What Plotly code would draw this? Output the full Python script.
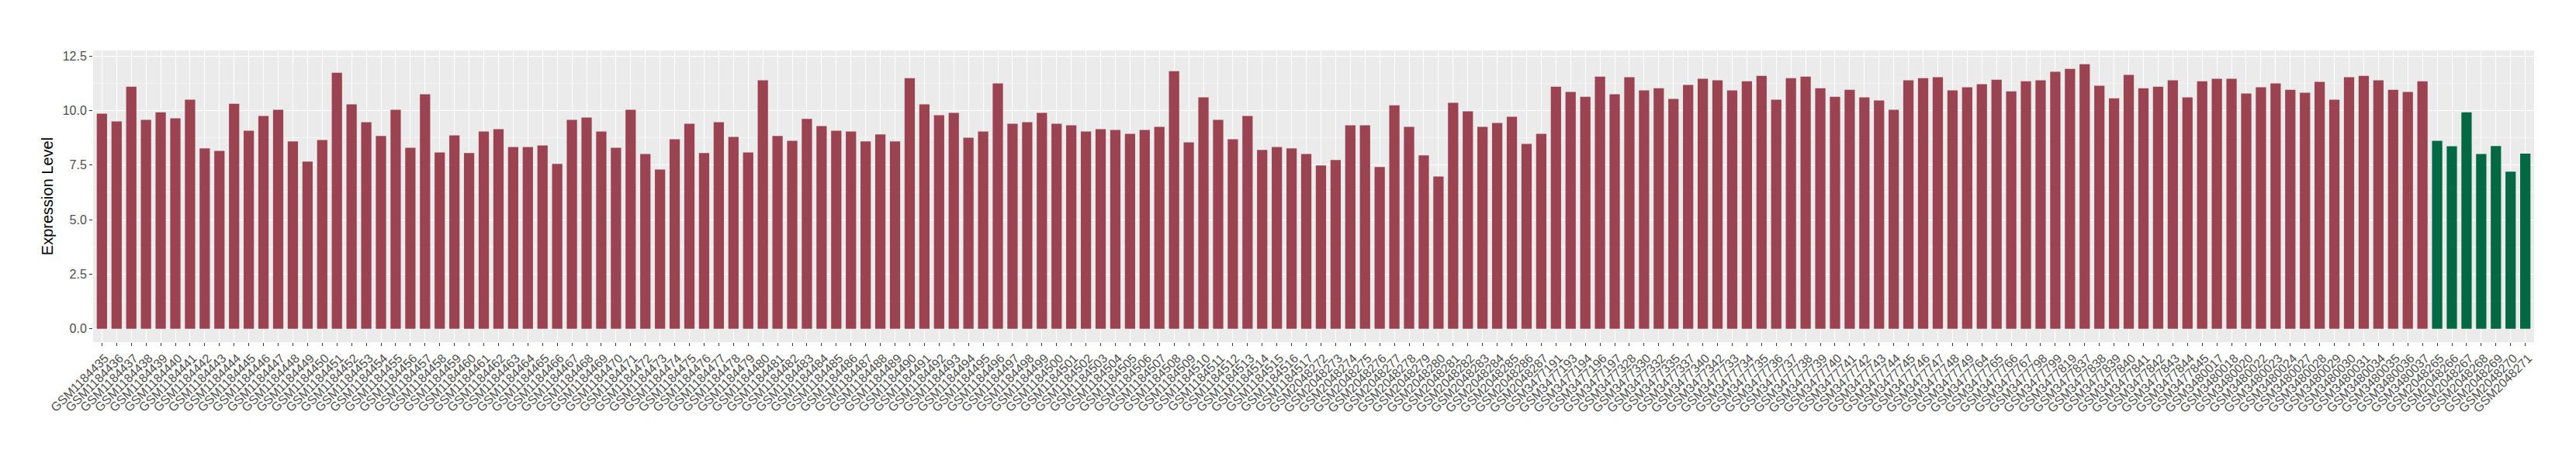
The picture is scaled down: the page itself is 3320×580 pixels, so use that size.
import plotly.graph_objects as go

# ---- data -------------------------------------------------------------
tumor_samples = [
    "GSM1184435", "GSM1184436", "GSM1184437", "GSM1184438", "GSM1184439", "GSM1184440",
    "GSM1184441", "GSM1184442", "GSM1184443", "GSM1184444", "GSM1184445", "GSM1184446",
    "GSM1184447", "GSM1184448", "GSM1184449", "GSM1184450", "GSM1184451", "GSM1184452",
    "GSM1184453", "GSM1184454", "GSM1184455", "GSM1184456", "GSM1184457", "GSM1184458",
    "GSM1184459", "GSM1184460", "GSM1184461", "GSM1184462", "GSM1184463", "GSM1184464",
    "GSM1184465", "GSM1184466", "GSM1184467", "GSM1184468", "GSM1184469", "GSM1184470",
    "GSM1184471", "GSM1184472", "GSM1184473", "GSM1184474", "GSM1184475", "GSM1184476",
    "GSM1184477", "GSM1184478", "GSM1184479", "GSM1184480", "GSM1184481", "GSM1184482",
    "GSM1184483", "GSM1184484", "GSM1184485", "GSM1184486", "GSM1184487", "GSM1184488",
    "GSM1184489", "GSM1184490", "GSM1184491", "GSM1184492", "GSM1184493", "GSM1184494",
    "GSM1184495", "GSM1184496", "GSM1184497", "GSM1184498", "GSM1184499", "GSM1184500",
    "GSM1184501", "GSM1184502", "GSM1184503", "GSM1184504", "GSM1184505", "GSM1184506",
    "GSM1184507", "GSM1184508", "GSM1184509", "GSM1184510", "GSM1184511", "GSM1184512",
    "GSM1184513", "GSM1184514", "GSM1184515", "GSM1184516", "GSM1184517",
    "GSM2048272", "GSM2048273", "GSM2048274", "GSM2048275", "GSM2048276", "GSM2048277",
    "GSM2048278", "GSM2048279", "GSM2048280", "GSM2048281", "GSM2048282", "GSM2048283",
    "GSM2048284", "GSM2048285", "GSM2048286", "GSM2048287",
    "GSM3477191", "GSM3477193", "GSM3477194", "GSM3477196", "GSM3477197",
    "GSM3477328", "GSM3477330", "GSM3477332", "GSM3477335", "GSM3477337", "GSM3477340",
    "GSM3477342",
    "GSM3477733", "GSM3477734", "GSM3477735", "GSM3477736", "GSM3477737", "GSM3477738",
    "GSM3477739", "GSM3477740", "GSM3477741", "GSM3477742", "GSM3477743", "GSM3477744",
    "GSM3477745", "GSM3477746", "GSM3477747", "GSM3477748", "GSM3477749",
    "GSM3477764", "GSM3477765", "GSM3477766", "GSM3477767", "GSM3477798", "GSM3477799",
    "GSM3477819", "GSM3477837", "GSM3477838", "GSM3477839", "GSM3477840", "GSM3477841",
    "GSM3477842", "GSM3477843", "GSM3477844", "GSM3477845",
    "GSM3480017", "GSM3480018", "GSM3480020", "GSM3480022", "GSM3480023", "GSM3480024",
    "GSM3480027", "GSM3480028", "GSM3480029", "GSM3480030", "GSM3480031", "GSM3480034",
    "GSM3480035", "GSM3480036", "GSM3480037",
]
tumor_values = [
    9.85, 9.50, 11.09, 9.57, 9.92, 9.64, 10.49, 8.26, 8.15, 10.31, 9.07, 9.75,
    10.03, 8.58, 7.66, 8.65, 11.73, 10.28, 9.46, 8.83, 10.03, 8.29, 10.74, 8.08,
    8.86, 8.05, 9.04, 9.14, 8.33, 8.33, 8.40, 7.55, 9.57, 9.68, 9.04, 8.29,
    10.03, 8.01, 7.30, 8.68, 9.39, 8.05, 9.46, 8.79, 8.08, 11.38, 8.83, 8.61,
    9.61, 9.29, 9.07, 9.04, 8.58, 8.90, 8.58, 11.48, 10.28, 9.78, 9.89, 8.75,
    9.04, 11.24, 9.39, 9.46, 9.89, 9.39, 9.32, 9.04, 9.14, 9.11, 8.93, 9.11,
    9.25, 11.80, 8.54, 10.60, 9.57, 8.68, 9.75, 8.19, 8.33, 8.26, 8.01,
    7.48, 7.73, 9.32, 9.32, 7.41, 10.24, 9.25, 7.94, 6.98, 10.35, 9.96, 9.25,
    9.43, 9.71, 8.47, 8.93,
    11.09, 10.85, 10.63, 11.55, 10.74,
    11.52, 10.92, 11.02, 10.53, 11.17, 11.45, 11.38,
    10.92, 11.34, 11.59, 10.49, 11.48, 11.55, 11.02, 10.63, 10.95, 10.60, 10.46,
    10.03, 11.38, 11.48, 11.52, 10.92, 11.06,
    11.20, 11.41, 10.88, 11.34, 11.38, 11.77, 11.91, 12.12, 11.13, 10.56, 11.63,
    11.02, 11.09, 11.38, 10.60, 11.34,
    11.45, 11.45, 10.78, 11.06, 11.24, 10.95, 10.81, 11.31, 10.49, 11.52, 11.59,
    11.38, 10.95, 10.85, 11.34,
]
normal_samples = [
    "GSM2048265", "GSM2048266", "GSM2048267", "GSM2048268", "GSM2048269",
    "GSM2048270", "GSM2048271",
]
normal_values = [8.61, 8.36, 9.92, 8.01, 8.37, 7.20, 8.02]

y_ticks = [0, 2.5, 5, 7.5, 10, 12.5]
y_tick_labels = ["0.0", "2.5", "5.0", "7.5", "10.0", "12.5"]
y_minor = [1.25, 3.75, 6.25, 8.75, 11.25]

all_samples = tumor_samples + normal_samples

# ---- figure -----------------------------------------------------------
fig = go.Figure()
fig.add_trace(go.Bar(x=tumor_samples, y=tumor_values, marker_color="#9B4351",
                     marker_line_width=0, width=0.7, name="Tumor"))
fig.add_trace(go.Bar(x=normal_samples, y=normal_values, marker_color="#036844",
                     marker_line_width=0, width=0.7, name="Normal"))

fig.update_layout(
    width=3320, height=580,
    margin=dict(l=112, r=62, t=57, b=147, autoexpand=False),
    paper_bgcolor="white", plot_bgcolor="#EBEBEB",
    barmode="overlay", showlegend=False,
    font=dict(family="Liberation Sans, Arial, sans-serif", color="#4D4D4D"),
)
fig.update_xaxes(
    type="category", categoryorder="array", categoryarray=all_samples,
    range=[-0.6, len(all_samples) - 0.4],
    tickmode="linear", tick0=0, dtick=1,
    tickangle=-45, tickfont=dict(size=16, color="#4D4D4D"),
    ticklabelshift=4,
    ticks="outside", ticklen=4, tickwidth=1.1, tickcolor="#333333",
    showgrid=True, gridcolor="white", gridwidth=1.4,
    zeroline=False, showline=False, automargin=False,
)
fig.update_yaxes(
    range=[-0.61, 12.75],
    tickmode="array", tickvals=y_ticks, ticktext=y_tick_labels,
    tickfont=dict(size=16, color="#4D4D4D"),
    ticks="outside", ticklen=4, tickwidth=1.1, tickcolor="#333333",
    showgrid=True, gridcolor="white", gridwidth=1.4,
    minor=dict(tickvals=y_minor, showgrid=True, gridcolor="#F4F4F4", gridwidth=0.7, ticks=""),
    zeroline=False, showline=False, automargin=False,
    title=dict(text="Expression Level", font=dict(size=20, color="black"), standoff=6),
)

fig.write_html("out.html")
